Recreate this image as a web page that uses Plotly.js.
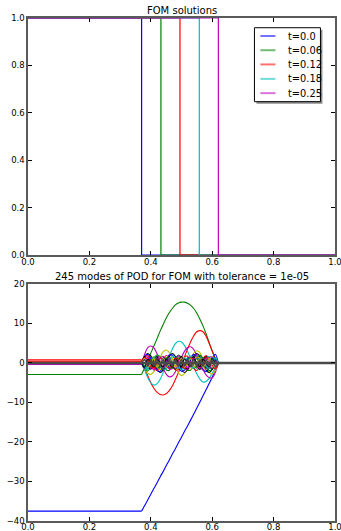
<!DOCTYPE html>
<html>
<head>
<meta charset="utf-8">
<script src="https://cdn.plot.ly/plotly-3.0.1.min.js"></script>
<style>html,body{margin:0;padding:0;background:#fff;}#chart{width:341px;height:531px;}</style>
</head>
<body>
<div id="chart"></div>
<script>
// ---------- FOM solutions (top) ----------
const tLabels = ['t=0.0', 't=0.06', 't=0.12', 't=0.18', 't=0.25'];
const shockPos = [0.370, 0.433, 0.495, 0.558, 0.620];
const fomLeftState = 1.0;
const fomRightState = 0.0;

// ---------- POD modes (bottom) ----------
const domainX = [0.0, 1.0];
const podGridX = [0.37, 0.38, 0.39, 0.40, 0.41, 0.42, 0.43, 0.44, 0.45, 0.46, 0.47, 0.48, 0.49,
                  0.50, 0.51, 0.52, 0.53, 0.54, 0.55, 0.56, 0.57, 0.58, 0.59, 0.60, 0.61, 0.62];
const podLeft = [-37.5, -2.9, 0.8, 0.1, -0.35, 0.05, 0.0,
                 0.05, 0.0, 0.45, 0.0, -0.3, 0.0, 0.0,
                 0.0, 0.0, 0.25, 0.0, -0.2, 0.0, 0.0,
                 0.0, 0.0];
const podRight = 0.0;
const mode01 = [-37.5, -36.1, -34.7, -33.2, -31.8, -30.4, -28.9, -27.5, -26.0, -24.6, -23.1, -21.7, -20.2,
                -18.8, -17.3, -15.9, -14.4, -12.9, -11.4, -9.9, -8.3, -6.8, -5.2, -3.6, -1.9, 0.0];
const mode02 = [-2.9, -1.2, 0.6, 2.5, 4.3, 6.1, 8.0, 9.7, 11.3, 12.7, 13.8, 14.7, 15.2,
                15.4, 15.4, 15.1, 14.6, 13.8, 12.6, 11.1, 9.4, 7.4, 5.2, 3.0, 1.1, 0.0];
const mode03 = [0.8, -1.2, -3.2, -5.0, -6.4, -7.4, -8.0, -8.1, -7.8, -7.0, -5.8, -4.2, -2.4,
                -0.4, 1.6, 3.6, 5.4, 6.9, 7.9, 8.2, 7.9, 6.8, 5.0, 3.1, 1.3, 0.0];
const mode04 = [0.1, -1.8, -3.7, -5.0, -5.6, -5.3, -4.2, -2.5, -0.5, 1.6, 3.5, 4.9, 5.5,
                5.3, 4.4, 2.9, 1.0, -1.0, -2.8, -4.1, -4.8, -4.7, -3.9, -2.6, -1.2, 0.0];
const mode05 = [-0.35, 2.2, 3.9, 4.3, 3.8, 2.4, 0.6, -1.3, -2.8, -3.5, -3.3, -2.2, -0.5,
                1.4, 3.0, 3.9, 4.1, 3.4, 2.0, 0.2, -1.6, -3.0, -3.7, -3.8, -2.4, 0.0];
const mode06 = [0.05, -1.5, -2.6, -2.9, -2.2, -0.6, 1.3, 2.8, 3.3, 2.7, 1.2, -0.8, -2.5,
                -3.2, -2.7, -1.2, 0.8, 2.5, 3.1, 2.6, 1.0, -0.9, -2.4, -2.8, -1.9, 0.0];
const mode07 = [0.0, 1.6, 2.4, 1.8, 0.2, -1.6, -2.4, -1.8, -0.1, 1.7, 2.4, 1.7, 0.0,
                -1.7, -2.4, -1.7, 0.1, 1.8, 2.4, 1.6, -0.1, -1.8, -2.4, -1.6, 0.1, 0.0];
const mode08 = [0.05, 1.7, 2.2, 1.2, -0.5, -1.9, -2.1, -1.0, 0.8, 2.0, 2.0, 0.7, -1.1,
                -2.1, -1.8, -0.4, 1.3, 2.2, 1.6, 0.1, -1.6, -2.2, -1.3, 0.5, 2.2, 0.0];
const mode09 = [0.0, -1.6, -2.0, -0.9, 0.9, 2.0, 1.6, 0.0, -1.7, -1.9, -0.7, 1.1, 2.0,
                1.4, -0.3, -1.8, -1.8, -0.4, 1.3, 2.0, 1.1, -0.6, -1.9, -1.6, -0.2, 0.0];
const mode10 = [0.45, 1.6, 1.8, 0.5, -1.2, -1.9, -1.0, 0.8, 1.9, 1.3, -0.4, -1.8, -1.6,
                0.0, 1.6, 1.7, 0.3, -1.4, -1.9, -0.7, 1.1, 1.9, 1.1, -0.6, -1.5, 0.0];
const mode11 = [0.0, -1.4, -1.7, -0.2, 1.5, 1.6, 0.0, -1.6, -1.5, 0.2, 1.7, 1.3, -0.5,
                -1.8, -1.1, 0.7, 1.8, 0.9, -0.9, -1.7, -0.6, 1.2, 1.6, 0.3, -1.2, 0.0];
const mode12 = [-0.3, 1.5, 1.4, -0.5, -1.8, -0.9, 1.1, 1.7, 0.2, -1.6, -1.4, 0.6, 1.8,
                0.8, -1.2, -1.7, -0.1, 1.6, 1.3, -0.7, -1.8, -0.6, 1.3, 1.6, 0.0, 0.0];
const mode13 = [0.0, -1.5, -1.0, 1.0, 1.6, -0.2, -1.7, -0.8, 1.2, 1.5, -0.4, -1.7, -0.6,
                1.4, 1.3, -0.7, -1.6, -0.3, 1.5, 1.1, -0.9, -1.5, 0.0, 1.6, 0.8, 0.0];
const mode14 = [0.0, 1.6, -0.6, -1.6, 0.6, 1.6, -0.6, -1.6, 0.6, 1.6, -0.6, -1.6, 0.6,
                1.6, -0.6, -1.6, 0.6, 1.6, -0.6, -1.6, 0.6, 1.6, -0.6, -1.6, 0.6, 0.0];
const mode15 = [0.0, -1.3, -0.75, 1.3, 0.75, -1.3, -0.75, 1.3, 0.75, -1.3, -0.75, 1.3, 0.75,
                -1.3, -0.75, 1.3, 0.75, -1.3, -0.75, 1.3, 0.75, -1.3, -0.75, 1.3, 0.75, 0.0];
const mode16 = [0.0, -0.75, -1.3, 0.75, 1.3, -0.75, -1.3, 0.75, 1.3, -0.75, -1.3, 0.75, 1.3,
                -0.75, -1.3, 0.75, 1.3, -0.75, -1.3, 0.75, 1.3, -0.75, -1.3, 0.75, 1.3, 0.0];
const mode17 = [0.25, 1.33, 0.82, -0.82, -1.33, 0.0, 1.33, 0.82, -0.82, -1.33, 0.0, 1.33, 0.82,
                -0.82, -1.33, 0.0, 1.33, 0.82, -0.82, -1.33, 0.0, 1.33, 0.82, -0.82, -1.33, 0.0];
const mode18 = [0.0, -0.82, -1.33, 0.0, 1.33, 0.82, -0.82, -1.33, 0.0, 1.33, 0.82, -0.82, -1.33,
                0.0, 1.33, 0.82, -0.82, -1.33, 0.0, 1.33, 0.82, -0.82, -1.33, 0.0, 1.33, 0.0];
const mode19 = [-0.2, 1.2, -0.4, -1.3, 0.4, 1.2, -0.4, -1.3, 0.4, 1.2, -0.4, -1.3, 0.4,
                1.2, -0.4, -1.3, 0.4, 1.2, -0.4, -1.3, 0.4, 1.2, -0.4, -1.3, 0.4, 0.0];
const mode20 = [0.0, 1.1, -1.1, 0.0, 1.1, -1.1, 0.0, 1.1, -1.1, 0.0, 1.1, -1.1, 0.0,
                1.1, -1.1, 0.0, 1.1, -1.1, 0.0, 1.1, -1.1, 0.0, 1.1, -1.1, 0.0, 0.0];
const mode21 = [0.0, -1.0, 1.0, 0.0, -1.0, 1.0, 0.0, -1.0, 1.0, 0.0, -1.0, 1.0, 0.0,
                -1.0, 1.0, 0.0, -1.0, 1.0, 0.0, -1.0, 1.0, 0.0, -1.0, 1.0, 0.0, 0.0];
const modeRest = [0.0, 0.8, -0.8, 0.8, -0.8, 0.8, -0.8, 0.8, -0.8, 0.8, -0.8, 0.8, -0.8,
                  0.8, -0.8, 0.8, -0.8, 0.8, -0.8, 0.8, -0.8, 0.8, -0.8, 0.8, -0.8, 0.0];
const modeFlat = [0.0, 0.0, 0.0, 0.0, 0.0, 0.0, 0.0, 0.0, 0.0, 0.0, 0.0, 0.0, 0.0,
                  0.0, 0.0, 0.0, 0.0, 0.0, 0.0, 0.0, 0.0, 0.0, 0.0, 0.0, 0.0, 0.0];
const podModes = [mode01, mode02, mode03, mode04, mode05, mode06, mode07,
                  mode08, mode09, mode10, mode11, mode12, mode13, mode14,
                  mode15, mode16, mode17, mode18, mode19, mode20, mode21,
                  modeRest, modeFlat];

const cycle = ['#0000ff', '#008000', '#ff0000', '#00bfbf', '#bf00bf', '#bfbf00', '#000000'];
const FONT = 'DejaVu Sans, Verdana, sans-serif';

const traces = [];
shockPos.forEach((s, i) => {
  traces.push({
    x: [domainX[0], s, s, domainX[1]], y: [fomLeftState, fomLeftState, fomRightState, fomRightState],
    xaxis: 'x', yaxis: 'y', mode: 'lines', type: 'scatter',
    line: {color: cycle[i], width: 1.2}, name: tLabels[i], showlegend: false, hoverinfo: 'skip'
  });
});

const gx0 = podGridX[0], gx1 = podGridX[podGridX.length - 1];
podModes.forEach((m, i) => {
  const isRest = i === podModes.length - 2;
  const isFlat = i === podModes.length - 1;
  let color = cycle[i % cycle.length];
  let width = 1.1;
  if (isRest) { color = '#484848'; width = 1.5; }
  if (isFlat) { color = '#4a4a4a'; width = 2.6; }
  const base = {xaxis: 'x2', yaxis: 'y2', mode: 'lines', type: 'scatter', showlegend: false, hoverinfo: 'skip'};
  // left constant part
  traces.push(Object.assign({}, base, {x: [domainX[0], gx0], y: [podLeft[i], m[0]],
    line: {color: color, width: isRest ? 1.1 : width}}));
  // active region
  traces.push(Object.assign({}, base, {x: podGridX, y: m,
    line: {color: color, width: width, shape: isFlat ? 'linear' : 'spline', smoothing: 1}}));
  // right constant part
  traces.push(Object.assign({}, base, {x: [gx1, domainX[1]], y: [m[m.length - 1], podRight],
    line: {color: color, width: isRest ? 1.1 : width}}));
});

const axisCommon = {
  showline: true, linecolor: '#5a5a5a', linewidth: 1.6, mirror: 'allticks',
  ticks: 'inside', ticklen: 4, tickwidth: 1, tickcolor: '#000',
  showgrid: false, zeroline: false, automargin: false, ticklabeloverflow: 'allow',
  tickfont: {family: FONT, size: 8.5, color: '#000'}
};

// custom legend (matplotlib style box with shadow)
const lg = {x0: 0.7376, x1: 0.9526, y0: 0.647, y1: 0.959, dx: 0.0065, dy: 0.0084,
            lineX0: 0.757, lineX1: 0.806, textX: 0.842,
            rows: [0.924, 0.864, 0.804, 0.743, 0.683]};
const shapes = [
  {type: 'rect', xref: 'x', yref: 'y', x0: lg.x0 + lg.dx, x1: lg.x1 + lg.dx, y0: lg.y0 - lg.dy, y1: lg.y1 - lg.dy,
   fillcolor: '#8c8c8c', line: {width: 0}, layer: 'above'},
  {type: 'rect', xref: 'x', yref: 'y', x0: lg.x0, x1: lg.x1, y0: lg.y0, y1: lg.y1,
   fillcolor: '#ffffff', line: {color: '#000', width: 1}, layer: 'above'}
];
const annotations = [
  {text: 'FOM solutions', xref: 'paper', yref: 'paper', x: 0.5, y: 1.0159, xanchor: 'center', yanchor: 'middle',
   showarrow: false, font: {family: FONT, size: 10, color: '#000'}},
  {text: '245 modes of POD for FOM with tolerance = 1e-05', xref: 'paper', yref: 'paper', x: 0.5, y: 0.487,
   xanchor: 'center', yanchor: 'middle', showarrow: false, font: {family: FONT, size: 10, color: '#000'}}
];
tLabels.forEach((lab, i) => {
  shapes.push({type: 'line', xref: 'x', yref: 'y', x0: lg.lineX0, x1: lg.lineX1, y0: lg.rows[i], y1: lg.rows[i],
               line: {color: cycle[i], width: 2}, opacity: 0.55, layer: 'above'});
  annotations.push({text: lab, xref: 'x', yref: 'y', x: lg.textX, y: lg.rows[i], xanchor: 'left', yanchor: 'middle',
                    showarrow: false, font: {family: FONT, size: 9.8, color: '#000'}});
});

const layout = {
  width: 341, height: 531,
  margin: {l: 28, r: 6, t: 18, b: 10},
  paper_bgcolor: '#fff', plot_bgcolor: '#fff',
  showlegend: false,
  xaxis: Object.assign({}, axisCommon, {domain: [0, 1], range: [0, 1], dtick: 0.2, tickformat: '.1f', anchor: 'y', ticklabelstandoff: -2}),
  yaxis: Object.assign({}, axisCommon, {domain: [0.5288, 1], range: [0, 1], dtick: 0.2, tickformat: '.1f', anchor: 'x'}),
  xaxis2: Object.assign({}, axisCommon, {domain: [0, 1], range: [0, 1], dtick: 0.2, tickformat: '.1f', anchor: 'y2', ticklabelstandoff: -3}),
  yaxis2: Object.assign({}, axisCommon, {domain: [0, 0.4712], range: [-40, 20], dtick: 10, anchor: 'x2'}),
  shapes: shapes,
  annotations: annotations
};

Plotly.newPlot('chart', traces, layout, {staticPlot: true, displayModeBar: false});
</script>
</body>
</html>
